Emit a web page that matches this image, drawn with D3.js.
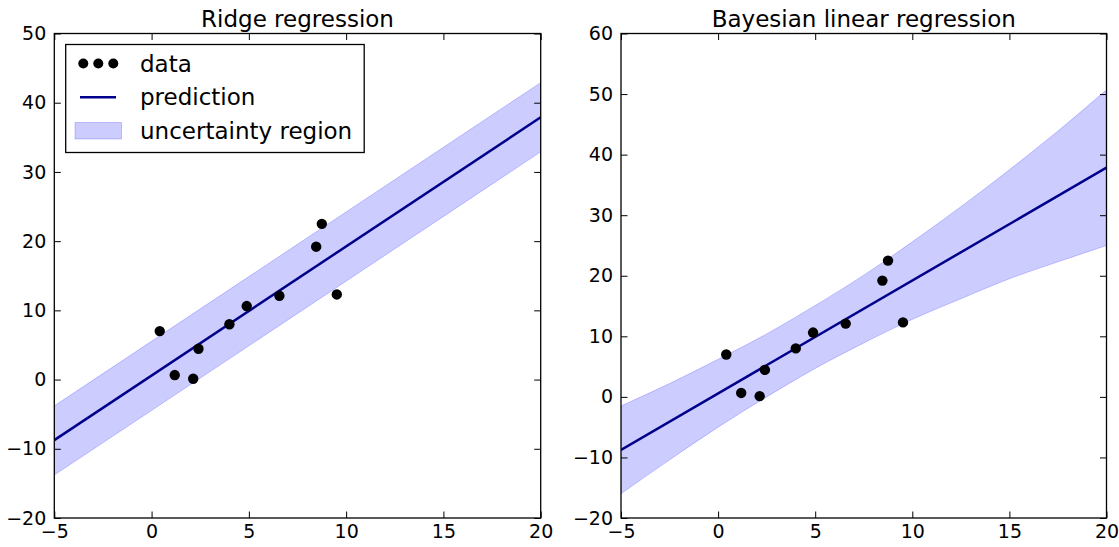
<!DOCTYPE html>
<html>
<head>
<meta charset="utf-8">
<script src="https://cdn.jsdelivr.net/npm/d3@7"></script>
<style>
  html, body { margin: 0; padding: 0; background: #ffffff; }
  svg { display: block; font-family: "DejaVu Sans", sans-serif; }
</style>
</head>
<body>
<svg id="chart" width="1119" height="547"></svg>
<script>
// ---------- data ----------
const dataX = [0.42, 1.19, 2.14, 2.41, 4.00, 4.89, 6.57, 8.46, 8.75, 9.52];
const dataY = [7.0, 0.65, 0.12, 4.45, 8.0, 10.62, 12.1, 19.2, 22.5, 12.3];

const predX = [-5, 20];
const ridgePredY = [-8.75, 37.9];
const ridgeBandX = [-5, 20];
const ridgeUpper = [-3.8, 42.9];
const ridgeLower = [-13.8, 32.9];

const bayesPredY = [-8.75, 37.85];
const bayesBandX = [-5, -2.5, 0, 2.5, 5, 7.5, 10, 12.5, 15, 17.5, 20];
const bayesUpper = [-1.5, 2.2, 6.2, 10.4, 15.1, 20.1, 25.6, 31.4, 37.5, 43.9, 50.7];
const bayesLower = [-16.0, -10.4, -5.0, 0.0, 4.7, 8.9, 12.8, 16.2, 19.5, 22.3, 25.0];

const xTicks = [-5, 0, 5, 10, 15, 20];
const ridgeYTicks = [-20, -10, 0, 10, 20, 30, 40, 50];
const bayesYTicks = [-20, -10, 0, 10, 20, 30, 40, 50, 60];

const titles = ["Ridge regression", "Bayesian linear regression"];
const legendLabels = ["data", "prediction", "uncertainty region"];

// ---------- styling ----------
const lineColor = "#00008b";
const bandColor = "blue";
const svg = d3.select("#chart");

const panels = [
  { left: 54.3, right: 540.7, top: 33.5, bottom: 518, ydom: [-20, 50], yticks: ridgeYTicks,
    title: titles[0], predY: ridgePredY, bandX: ridgeBandX, up: ridgeUpper, lo: ridgeLower, legend: true },
  { left: 621, right: 1106.5, top: 33.5, bottom: 518, ydom: [-20, 60], yticks: bayesYTicks,
    title: titles[1], predY: bayesPredY, bandX: bayesBandX, up: bayesUpper, lo: bayesLower, legend: false }
];

const fmt = d => (d < 0 ? "\u2212" + Math.abs(d) : String(d));

panels.forEach((p, idx) => {
  const x = d3.scaleLinear().domain([-5, 20]).range([p.left, p.right]);
  const y = d3.scaleLinear().domain(p.ydom).range([p.bottom, p.top]);
  const g = svg.append("g");

  const clipId = "clip" + idx;
  svg.append("clipPath").attr("id", clipId).append("rect")
    .attr("x", p.left).attr("y", p.top)
    .attr("width", p.right - p.left).attr("height", p.bottom - p.top);

  const plot = g.append("g").attr("clip-path", `url(#${clipId})`);

  const bandData = p.bandX.map((xv, i) => ({ x: xv, u: p.up[i], l: p.lo[i] }));
  const area = d3.area()
    .x(d => x(d.x)).y0(d => y(d.l)).y1(d => y(d.u))
    .curve(d3.curveMonotoneX);
  plot.append("path").datum(bandData)
    .attr("d", area)
    .attr("fill", bandColor).attr("fill-opacity", 0.2)
    .attr("stroke", bandColor).attr("stroke-opacity", 0.2).attr("stroke-width", 1);

  const lineData = predX.map((xv, i) => ({ x: xv, y: p.predY[i] }));
  plot.append("path").datum(lineData)
    .attr("d", d3.line().x(d => x(d.x)).y(d => y(d.y)))
    .attr("fill", "none").attr("stroke", lineColor).attr("stroke-width", 2.5);

  plot.selectAll("circle.pt").data(dataX.map((xv, i) => ({ x: xv, y: dataY[i] })))
    .enter().append("circle").attr("class", "pt")
    .attr("cx", d => x(d.x)).attr("cy", d => y(d.y)).attr("r", 5.2)
    .attr("fill", "#000");

  // axes (ticks inside, all four sides)
  const tickLen = 6.5;
  const axB = d3.axisBottom(x).tickValues(xTicks).tickSize(-tickLen).tickPadding(7).tickFormat(fmt);
  const axT = d3.axisTop(x).tickValues(xTicks).tickSize(-tickLen).tickFormat("");
  const axL = d3.axisLeft(y).tickValues(p.yticks).tickSize(-tickLen).tickPadding(8).tickFormat(fmt);
  const axR = d3.axisRight(y).tickValues(p.yticks).tickSize(-tickLen).tickFormat("");

  const gb = g.append("g").attr("transform", `translate(0,${p.bottom})`).call(axB);
  const gt = g.append("g").attr("transform", `translate(0,${p.top})`).call(axT);
  const gl = g.append("g").attr("transform", `translate(${p.left},0)`).call(axL);
  const gr = g.append("g").attr("transform", `translate(${p.right},0)`).call(axR);
  [gb, gt, gl, gr].forEach(a => {
    a.select(".domain").remove();
    a.selectAll(".tick line").attr("stroke", "#000").attr("stroke-width", 1);
    a.selectAll(".tick text").attr("fill", "#000").attr("font-size", 19)
      .attr("font-family", "DejaVu Sans, sans-serif");
  });

  g.append("rect").attr("x", p.left).attr("y", p.top)
    .attr("width", p.right - p.left).attr("height", p.bottom - p.top)
    .attr("fill", "none").attr("stroke", "#000").attr("stroke-width", 1.3);

  g.append("text").attr("x", (p.left + p.right) / 2).attr("y", 26.5)
    .attr("text-anchor", "middle").attr("font-size", 23).attr("fill", "#000")
    .text(p.title);

  if (p.legend) {
    const lg = g.append("g");
    lg.append("rect").attr("x", 65.7).attr("y", 44.5).attr("width", 298.5).attr("height", 108)
      .attr("fill", "#fff").attr("stroke", "#000").attr("stroke-width", 1.3);
    [83.3, 98.3, 113.3].forEach(cx => {
      lg.append("circle").attr("cx", cx).attr("cy", 63.5).attr("r", 5).attr("fill", "#000");
    });
    lg.append("line").attr("x1", 80).attr("x2", 116).attr("y1", 97.3).attr("y2", 97.3)
      .attr("stroke", lineColor).attr("stroke-width", 2.5);
    lg.append("rect").attr("x", 75).attr("y", 122.5).attr("width", 46.5).attr("height", 16.5)
      .attr("fill", bandColor).attr("fill-opacity", 0.2)
      .attr("stroke", bandColor).attr("stroke-opacity", 0.2).attr("stroke-width", 1);
    const ty = [63.5, 97, 130.5];
    legendLabels.forEach((t, i) => {
      lg.append("text").attr("x", 140).attr("y", ty[i]).attr("dy", "0.36em")
        .attr("font-size", 23).attr("fill", "#000").text(t);
    });
  }
});
</script>
</body>
</html>
